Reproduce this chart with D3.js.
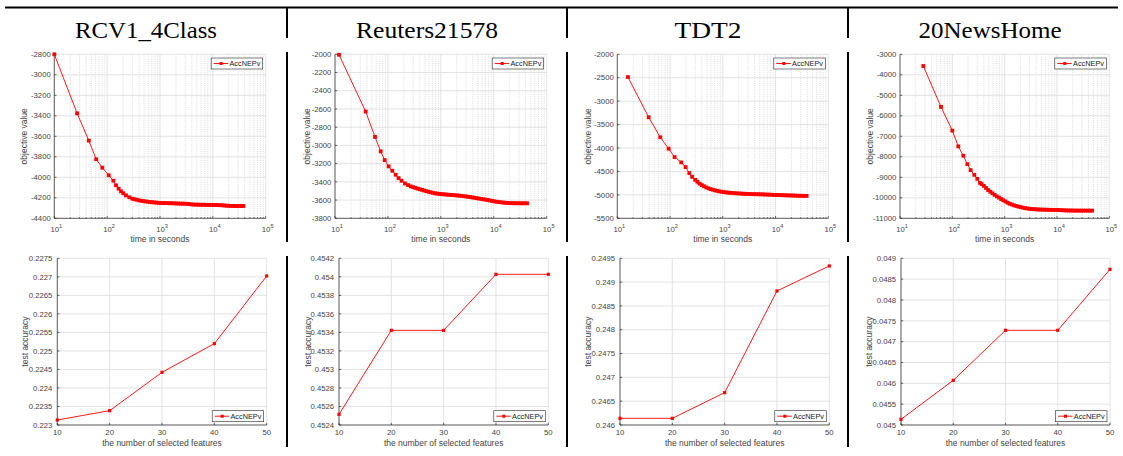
<!DOCTYPE html>
<html><head><meta charset="utf-8">
<script src="https://cdn.jsdelivr.net/npm/d3@7"></script>
<style>body{margin:0;background:#fff} svg{display:block}</style>
</head><body><svg id="c" width="1123" height="456"></svg>
<script>
// ---------------- DATA ----------------
const headers = ["RCV1_4Class", "Reuters21578", "TDT2", "20NewsHome"];
const seriesName = "AccNEPv";
const xLabelTop = "time in seconds";
const yLabelTop = "objective value";
const xLabelBottom = "the number of selected features";
const yLabelBottom = "test accuracy";

// objective value vs. time (seconds, log axis)
const timeRCV = [10,27,45,62,81,107,131,147,165,183,202,227,263,300,330,363,400,440,484,532,585,644,708,779,857,943,1037,1141,1255,1380,1518,1670,1837,2021,2223,2445,2690,2959,3255,3580,3938,4332,4765,5242,5766,6343,6977,7675,8442,9287,10215,11237,12360,13596,14956,16452,18097,19907,21897,24087,26496,29146,32060,35266,37800];
const objRCV = [-2800,-3376,-3642,-3824,-3906,-3980,-4033,-4078,-4111,-4137,-4156,-4176,-4195,-4209,-4214,-4219,-4225,-4229,-4232,-4236,-4238,-4241,-4243,-4245,-4247,-4249,-4250,-4251,-4252,-4252,-4253,-4253,-4254,-4255,-4256,-4257,-4257,-4258,-4259,-4261,-4264,-4266,-4267,-4267,-4268,-4268,-4268,-4269,-4269,-4270,-4270,-4271,-4271,-4272,-4273,-4275,-4277,-4278,-4279,-4279,-4280,-4280,-4280,-4280,-4280];

const timeReuters = [11.9,38,57,73,87,103,121,140,159,181,210,240,270,300,330,363,400,440,484,532,585,644,708,779,857,943,1037,1141,1255,1380,1518,1670,1837,2021,2223,2445,2690,2959,3255,3580,3938,4332,4765,5242,5766,6343,6977,7675,8442,9287,10215,11237,12360,13596,14956,16452,18097,19907,21897,24087,26496,29146,32060,35266,38793,42672];
const objReuters = [-2005,-2628,-2907,-3065,-3161,-3230,-3278,-3322,-3359,-3388,-3418,-3436,-3450,-3458,-3466,-3474,-3481,-3488,-3495,-3502,-3509,-3515,-3520,-3526,-3529,-3532,-3535,-3537,-3539,-3541,-3543,-3545,-3547,-3549,-3551,-3554,-3557,-3560,-3563,-3567,-3571,-3575,-3579,-3583,-3587,-3591,-3595,-3599,-3604,-3609,-3614,-3618,-3621,-3624,-3627,-3629,-3631,-3633,-3634,-3634,-3635,-3635,-3635,-3635,-3635,-3635];

const timeTDT2 = [15.9,39.3,65.3,94,122,163,197,232,262,300,330,363,400,440,484,532,585,644,708,779,857,943,1037,1141,1255,1380,1518,1670,1837,2021,2223,2445,2690,2959,3255,3580,3938,4332,4765,5242,5766,6343,6977,7675,8442,9287,10215,11237,12360,13596,14956,16452,18097,19907,21897,24087,26496,29146,32060,35266,38793];
const objTDT2 = [-2486,-3343,-3771,-4014,-4193,-4307,-4407,-4536,-4615,-4680,-4720,-4760,-4790,-4815,-4840,-4860,-4877,-4890,-4903,-4914,-4924,-4933,-4940,-4946,-4951,-4956,-4960,-4964,-4967,-4970,-4973,-4976,-4978,-4980,-4982,-4984,-4985,-4986,-4987,-4988,-4990,-4992,-4994,-4996,-4998,-5000,-5001,-5003,-5005,-5007,-5009,-5010,-5012,-5013,-5014,-5016,-5018,-5019,-5020,-5021,-5022];

const time20News = [27.9,60.7,100,130,162,194,224,263,300,338,363,400,440,484,532,585,644,708,779,857,943,1037,1141,1255,1380,1518,1670,1837,2021,2223,2445,2690,2959,3255,3580,3938,4332,4765,5242,5766,6343,6977,7675,8442,9287,10215,11237,12360,13596,14956,16452,18097,19907,21897,24087,26496,29146,32060,35266,38793,42672,46939];
const obj20News = [-3572,-5564,-6723,-7491,-7948,-8356,-8650,-8879,-9075,-9271,-9330,-9420,-9520,-9620,-9700,-9780,-9860,-9930,-9990,-10060,-10120,-10180,-10240,-10290,-10330,-10370,-10400,-10430,-10455,-10480,-10500,-10520,-10535,-10545,-10555,-10562,-10568,-10573,-10577,-10580,-10583,-10586,-10588,-10590,-10592,-10594,-10600,-10605,-10610,-10615,-10618,-10620,-10622,-10624,-10625,-10626,-10626,-10626,-10626,-10626,-10626,-10626];

// test accuracy vs. number of selected features
const features = [10, 20, 30, 40, 50];
const accRCV = [0.223135, 0.223387, 0.224422, 0.225196, 0.227023];
const accReuters = [0.452515, 0.453422, 0.453422, 0.454027, 0.454027];
const accTDT2 = [0.24614, 0.24614, 0.246679, 0.248814, 0.249339];
const acc20News = [0.045136, 0.046072, 0.047272, 0.047272, 0.048736];

// tick values
const timeTicks = [10, 100, 1000, 10000, 100000];
const yTicksRCV = [-4400,-4200,-4000,-3800,-3600,-3400,-3200,-3000,-2800];
const yTicksReuters = [-3800,-3600,-3400,-3200,-3000,-2800,-2600,-2400,-2200,-2000];
const yTicksTDT2 = [-5500,-5000,-4500,-4000,-3500,-3000,-2500,-2000];
const yTicks20News = [-11000,-10000,-9000,-8000,-7000,-6000,-5000,-4000,-3000];
const accTicksRCV = [0.223,0.2235,0.224,0.2245,0.225,0.2255,0.226,0.2265,0.227,0.2275];
const accTicksReuters = [0.4524,0.4526,0.4528,0.453,0.4532,0.4534,0.4536,0.4538,0.454,0.4542];
const accTicksTDT2 = [0.246,0.2465,0.247,0.2475,0.248,0.2485,0.249,0.2495];
const accTicks20News = [0.045,0.0455,0.046,0.0465,0.047,0.0475,0.048,0.0485,0.049];

// ---------------- DRAW ----------------
const svg = d3.select("#c");
const SANS = "'Liberation Sans', Arial, Helvetica, sans-serif";
const TXT = "#444";
const AX = "#262626";
const RED = "#ff0000";
const TICKFS = 7.7, LABFS = 8.5;

// header
const colCenters = [146, 427, 708, 990];
const headerWidths = [142, 142, 67, 143];
headers.forEach((h, i) => {
  svg.append("text").attr("x", colCenters[i]).attr("y", 37.5)
    .attr("text-anchor", "middle").attr("font-family", "'Liberation Serif', 'Times New Roman', serif")
    .attr("font-size", 22.5).attr("fill", "#000")
    .attr("textLength", headerWidths[i]).attr("lengthAdjust", "spacingAndGlyphs")
    .text(h);
});
svg.append("rect").attr("x", 5).attr("y", 6.5).attr("width", 1113).attr("height", 2).attr("fill", "#000");
[287, 567, 848].forEach(x => {
  [[7, 38], [52, 242], [256, 447]].forEach(([a, b]) => {
    svg.append("rect").attr("x", x - 1).attr("y", a).attr("width", 2).attr("height", b - a).attr("fill", "#000");
  });
});

function legend(g, bx, by) {
  g.append("rect").attr("x", bx).attr("y", by).attr("width", 51.5).attr("height", 11)
    .attr("fill", "#fff").attr("stroke", AX).attr("stroke-width", 0.6);
  g.append("line").attr("x1", bx + 2.5).attr("x2", bx + 17).attr("y1", by + 5.5).attr("y2", by + 5.5)
    .attr("stroke", RED).attr("stroke-width", 0.9);
  g.append("rect").attr("x", bx + 8.5).attr("y", by + 4).attr("width", 3).attr("height", 3).attr("fill", RED);
  g.append("text").attr("x", bx + 18.3).attr("y", by + 8.2).attr("font-family", SANS)
    .attr("font-size", 7.3).attr("fill", "#222").text(seriesName);
}

function panel(o) {
  const g = svg.append("g");
  const x = o.log ? d3.scaleLog().domain([10, 100000]).range([o.x0, o.x1])
                  : d3.scaleLinear().domain([10, 50]).range([o.x0, o.x1]);
  const y = d3.scaleLinear().domain(d3.extent(o.yTicks)).range([o.y1, o.y0]);
  const minor = o.log ? x.ticks().filter(v => !o.xTicks.includes(v)) : [];

  // minor grid (log x)
  g.selectAll(null).data(minor).enter().append("line")
    .attr("x1", d => x(d)).attr("x2", d => x(d)).attr("y1", o.y0).attr("y2", o.y1)
    .attr("stroke", "#c4c4c4").attr("stroke-width", 0.6).attr("stroke-dasharray", "1,1.2");
  // major grid
  g.selectAll(null).data(o.xTicks).enter().append("line")
    .attr("x1", d => x(d)).attr("x2", d => x(d)).attr("y1", o.y0).attr("y2", o.y1)
    .attr("stroke", "#dcdcdc").attr("stroke-width", 0.8);
  g.selectAll(null).data(o.yTicks).enter().append("line")
    .attr("x1", o.x0).attr("x2", o.x1).attr("y1", d => y(d)).attr("y2", d => y(d))
    .attr("stroke", "#dcdcdc").attr("stroke-width", 0.8);

  // axes lines
  g.append("line").attr("x1", o.x0).attr("x2", o.x0).attr("y1", o.y0).attr("y2", o.y1).attr("stroke", AX).attr("stroke-width", 0.7);
  g.append("line").attr("x1", o.x0).attr("x2", o.x1).attr("y1", o.y1).attr("y2", o.y1).attr("stroke", AX).attr("stroke-width", 0.7);
  // ticks
  g.selectAll(null).data(o.yTicks).enter().append("line")
    .attr("x1", o.x0).attr("x2", o.x0 + 2.2).attr("y1", d => y(d)).attr("y2", d => y(d))
    .attr("stroke", AX).attr("stroke-width", 0.7);
  g.selectAll(null).data(o.xTicks).enter().append("line")
    .attr("x1", d => x(d)).attr("x2", d => x(d)).attr("y1", o.y1).attr("y2", o.y1 - 2.2)
    .attr("stroke", AX).attr("stroke-width", 0.7);
  g.selectAll(null).data(minor).enter().append("line")
    .attr("x1", d => x(d)).attr("x2", d => x(d)).attr("y1", o.y1).attr("y2", o.y1 - 1.2)
    .attr("stroke", AX).attr("stroke-width", 0.6);

  // tick labels
  g.selectAll(null).data(o.yTicks).enter().append("text")
    .attr("x", o.x0 - o.yGap).attr("y", d => y(d)).attr("dy", "0.35em")
    .attr("text-anchor", "end").attr("font-family", SANS).attr("font-size", TICKFS).attr("fill", TXT)
    .text(d => String(d));
  if (o.log) {
    o.xTicks.forEach(v => {
      const t = g.append("text").attr("x", x(v) + 2).attr("y", o.y1 + 13.5)
        .attr("text-anchor", "middle").attr("font-family", SANS).attr("font-size", TICKFS).attr("fill", TXT);
      t.append("tspan").text("10");
      t.append("tspan").attr("dy", -4).attr("font-size", 5.6).text(String(Math.round(Math.log10(v))));
    });
  } else {
    g.selectAll(null).data(o.xTicks).enter().append("text")
      .attr("x", d => x(d)).attr("y", o.y1 + 10.3)
      .attr("text-anchor", "middle").attr("font-family", SANS).attr("font-size", TICKFS).attr("fill", TXT)
      .text(d => String(d));
  }
  // axis labels
  g.append("text").attr("x", (o.x0 + o.x1) / 2).attr("y", o.xLabelY)
    .attr("text-anchor", "middle").attr("font-family", SANS).attr("font-size", LABFS).attr("fill", TXT)
    .text(o.xLabel);
  g.append("text").attr("transform", `translate(${o.yLabelX},${(o.y0 + o.y1) / 2}) rotate(-90)`)
    .attr("dy", "0.35em").attr("text-anchor", "middle").attr("font-family", SANS).attr("font-size", LABFS).attr("fill", TXT)
    .text(o.yLabel);

  // series
  const pts = d3.zip(o.xs, o.ys);
  g.append("path").datum(pts)
    .attr("d", d3.line().x(d => x(d[0])).y(d => y(d[1])))
    .attr("fill", "none").attr("stroke", RED).attr("stroke-width", 0.9);
  const m = o.marker;
  g.selectAll(null).data(pts).enter().append("rect")
    .attr("x", d => x(d[0]) - m / 2).attr("y", d => y(d[1]) - m / 2)
    .attr("width", m).attr("height", m).attr("fill", RED);

  // legend
  if (o.legendTop) legend(g, o.x1 - 54.5, o.y0 + 3.7);
  else legend(g, o.x1 - 54.5, o.y1 - 14.3);
}

const topX = [[54.3, 265.7], [335, 546.7], [617.3, 828.3], [900, 1109.3]];
const botX = [[57.3, 266.7], [339, 548.3], [620, 829.3], [901, 1110]];
const topYL = [24, 307, 588, 870];
const botYL = [25, 308, 588, 869];
const topSeries = [[timeRCV, objRCV, yTicksRCV], [timeReuters, objReuters, yTicksReuters], [timeTDT2, objTDT2, yTicksTDT2], [time20News, obj20News, yTicks20News]];
const botSeries = [[accRCV, accTicksRCV], [accReuters, accTicksReuters], [accTDT2, accTicksTDT2], [acc20News, accTicks20News]];

topSeries.forEach(([xs, ys, yt], i) => panel({
  log: true, x0: topX[i][0], x1: topX[i][1], y0: 54.3, y1: 218.3,
  xs, ys, yTicks: yt, xTicks: timeTicks, xLabel: xLabelTop, yLabel: yLabelTop,
  xLabelY: 242, yLabelX: topYL[i], legendTop: true, yGap: 3.6, marker: 3.8
}));
botSeries.forEach(([ys, yt], i) => panel({
  log: false, x0: botX[i][0], x1: botX[i][1], y0: 258.3, y1: 425,
  xs: features, ys, yTicks: yt, xTicks: features, xLabel: xLabelBottom, yLabel: yLabelBottom,
  xLabelY: 446.3, yLabelX: botYL[i], legendTop: false, yGap: 5, marker: 3.2
}));
</script>
</body></html>
